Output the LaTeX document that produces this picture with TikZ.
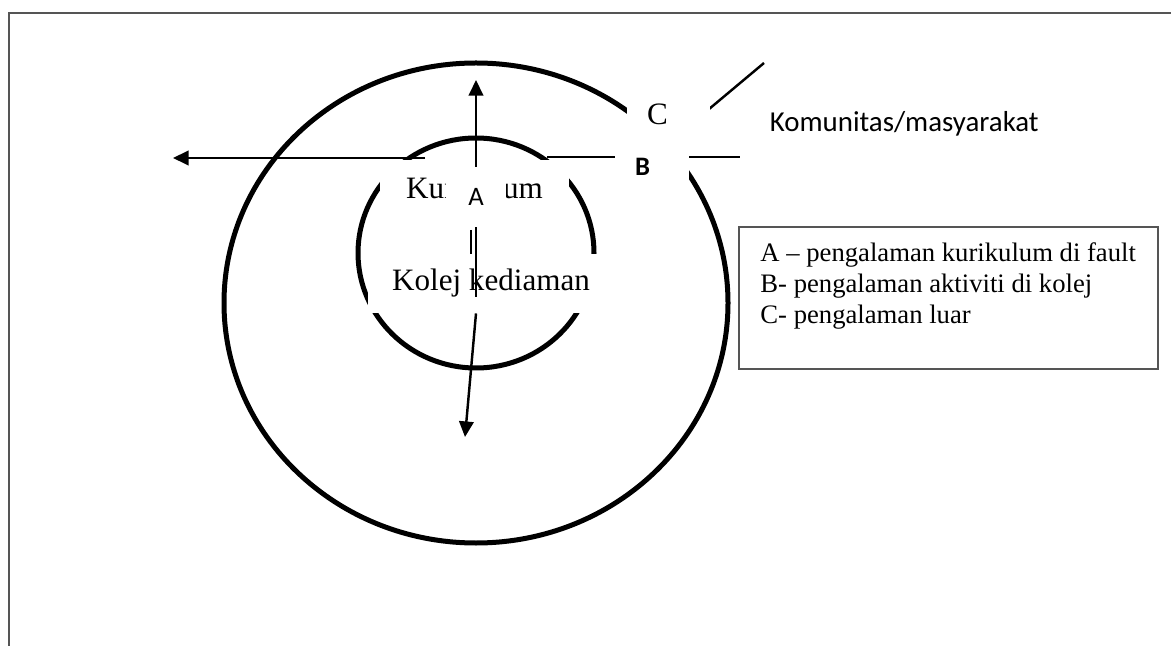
\documentclass[tikz,border=0pt]{standalone}
\usepackage{fontspec}
\setmainfont{Liberation Serif}
\newfontfamily\calibri{Carlito}
\usepackage{tikz}
\usetikzlibrary{arrows.meta,shapes.geometric}
\definecolor{framegray}{RGB}{85,85,85}

\begin{document}
\begin{tikzpicture}[x=0.45pt, y=-0.45pt,
    ring/.style={draw, ellipse, line width=2.25pt, inner sep=0pt},
    mask/.style={fill=white, inner sep=0pt},
    pointer/.style={line width=1.1pt},
    arrow/.style={line width=1.1pt, -{Triangle[length=7pt,width=6.5pt]}}]
    \useasboundingbox (0,0) rectangle (1171,646);
    % page frame
    \draw[framegray, line width=0.7pt] (1171,13) -- (9,13) -- (9,646);
    % the two circles
    \node[ring, minimum width=226.8pt, minimum height=216pt] (outer) at (476,303) {};
    \node[ring, minimum width=106.2pt, minimum height=103.5pt] (inner) at (476,253) {};
    % free ends of the lines
    \coordinate (lefttip) at (173,158);
    \coordinate (leftstart) at (425,158);
    \coordinate (bstart) at (547,157);
    \coordinate (bend) at (740,157);
    \coordinate (kend) at (764,63);
    \coordinate (kstart) at (690,125);
    \coordinate (uptip) at (476,80);
    \coordinate (kline) at (476,297);
    \coordinate (downtip) at (465,437);
    \draw[arrow] (leftstart) -- (lefttip);
    \draw[pointer] (bstart) -- (bend);
    \draw[pointer] (kstart) -- (kend);
    % labels on white
    \node[mask, minimum width=85pt, minimum height=24.75pt, font=\fontsize{14}{16}\selectfont] (kurikulum) at (474.5,187.5) {Kurikulum};
    \node[mask, minimum width=27pt, minimum height=27pt, font=\calibri\fontsize{12}{14}\selectfont] (a) at (476,197) {A};
    \draw[line width=0.9pt] (471,230) -- (471,257);
    \node[mask, minimum width=110.7pt, minimum height=26.55pt, font=\fontsize{14}{16}\selectfont] (kolej) at (491,283.5) {Kolej kediaman};
    \node[mask, inner xsep=9pt, text width=19.35pt, align=left, minimum height=30.6pt, font=\fontsize{14}{16}\selectfont] (c) at (668.5,114) {C};
    \node[mask, inner xsep=9pt, text width=15.3pt, align=left, minimum height=17.1pt, font=\calibri\bfseries\fontsize{12}{14}\selectfont] (b) at (652,167) {B};
    % arrows through the middle
    \draw[arrow] (a.north) -- (uptip);
    \draw[pointer] (a.south) -- (kline);
    \draw[arrow] (kolej.south -| a) -- (downtip);
    % community label and legend
    \node[anchor=base west, font=\calibri\fontsize{13}{15}\selectfont] (komunitas) at (762,132) {Komunitas/masyarakat};
    \node[draw=framegray, line width=0.7pt, minimum width=188.55pt, minimum height=63.9pt, anchor=north west, inner sep=0pt] (legend) at (738,226) {};
    \node[anchor=north west, align=left, inner sep=0pt, font=\fontsize{12}{14}\selectfont] (keys) at (760,242) {A – pengalaman kurikulum di fault\\B- pengalaman aktiviti di kolej\\C- pengalaman luar};
\end{tikzpicture}
\end{document}
